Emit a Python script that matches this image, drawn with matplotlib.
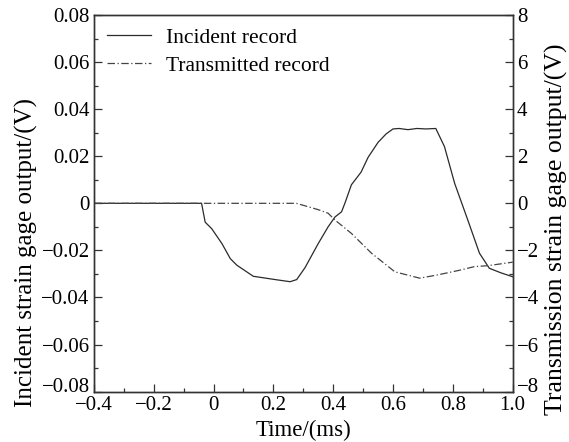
import matplotlib
matplotlib.use("Agg")
import matplotlib.pyplot as plt
from matplotlib.ticker import MultipleLocator, FuncFormatter
from matplotlib.transforms import ScaledTranslation

plt.rcParams['font.family'] = ['Liberation Serif', 'DejaVu Serif']
plt.rcParams['axes.unicode_minus'] = True

# Incident record (left axis, V)
inc_t = [-0.40, -0.30, -0.20, -0.10, -0.05, -0.040, -0.028, -0.006, 0.028, 0.056, 0.078, 0.133,
         0.206, 0.256, 0.278, 0.306, 0.35, 0.383, 0.406, 0.428, 0.439, 0.461, 0.493, 0.517,
         0.55, 0.577, 0.60, 0.62, 0.65, 0.68, 0.71, 0.743, 0.772, 0.806, 0.85, 0.889,
         0.922, 0.96, 1.00]
inc_v = [0.0, 0.0, 0.0, 0.0, 0.0, 0.0, -0.0080, -0.0108, -0.0171, -0.0235, -0.0263, -0.0310,
         -0.0324, -0.0333, -0.0324, -0.0273, -0.0171, -0.0100, -0.0058, -0.0036, 0.0, 0.0079,
         0.0132, 0.0196, 0.0259, 0.0295, 0.0316, 0.0318, 0.0313, 0.0318, 0.0316, 0.0318,
         0.0241, 0.0085, -0.0071, -0.0212, -0.0276, -0.0295, -0.0312]

# Transmitted record (right axis, V)
tr_t = [-0.40, -0.20, 0.0, 0.15, 0.277, 0.35, 0.383, 0.406, 0.461, 0.528, 0.55, 0.606,
        0.689, 0.75, 0.82, 0.872, 0.917, 0.989, 1.00]
tr_v = [0.0, 0.0, 0.0, 0.0, 0.0, -0.27, -0.42, -0.71, -1.28, -2.12, -2.34, -2.91,
        -3.18, -3.04, -2.85, -2.69, -2.65, -2.52, -2.50]

x_ticks = [-0.4, -0.2, 0, 0.2, 0.4, 0.6, 0.8, 1.0]
x_labels = ['\u22120.4', '\u22120.2', '0', '0.2', '0.4', '0.6', '0.8', '1.0']
yl_ticks = [-0.08, -0.06, -0.04, -0.02, 0, 0.02, 0.04, 0.06, 0.08]
yl_labels = ['\u22120.08', '\u22120.06', '\u22120.04', '\u22120.02', '0',
             '0.02', '0.04', '0.06', '0.08']
yr_ticks = [-8, -6, -4, -2, 0, 2, 4, 6, 8]
yr_labels = ['\u22128', '\u22126', '\u22124', '\u22122', '0', '2', '4', '6', '8']

fig = plt.figure(figsize=(5.69, 4.42), dpi=100)
ax = fig.add_axes([0.165, 0.114, 0.736, 0.852])
ax2 = ax.twinx()

l1, = ax.plot(inc_t, inc_v, color='#2a2a2a', lw=0.9, label='Incident record')
l2, = ax2.plot(tr_t, tr_v, color='#444444', lw=0.9, linestyle=(0, (6, 2, 1, 2)),
               label='Transmitted record')

ax.set_xlim(-0.4, 1.0)
ax.set_ylim(-0.08, 0.08)
ax2.set_ylim(-8, 8)

ax.set_xticks(x_ticks)
ax.set_xticklabels(x_labels)
ax.set_yticks(yl_ticks)
ax.set_yticklabels(yl_labels)
ax2.set_yticks(yr_ticks)
ax2.set_yticklabels(yr_labels)
ax.xaxis.set_minor_locator(MultipleLocator(0.1))
ax.yaxis.set_minor_locator(MultipleLocator(0.01))
ax2.yaxis.set_minor_locator(MultipleLocator(1))

for a in (ax, ax2):
    a.tick_params(which='both', direction='in', labelsize=15, width=0.9, color='#333333')
    a.tick_params(which='major', length=6)
    a.tick_params(which='minor', length=3)
    for s in a.spines.values():
        s.set_linewidth(1.0)
        s.set_color('#333333')
ax.tick_params(axis='x', pad=3)
ax.tick_params(axis='y', pad=3)
ax2.tick_params(axis='y', pad=3)

# bottom y tick labels sit a little above the spine, as in the reference
shift = ScaledTranslation(0, 5 / 72, fig.dpi_scale_trans)
for t in (ax.yaxis.get_major_ticks()[0], ax2.yaxis.get_major_ticks()[0]):
    for lab in (t.label1, t.label2):
        lab.set_transform(lab.get_transform() + shift)

ax.set_xlabel('Time/(ms)', fontsize=16.5, labelpad=4)
ax.set_ylabel('Incident strain gage output/(V)', fontsize=18, labelpad=2.5, y=0.37)
ax2.set_ylabel('Transmission strain gage output/(V)', fontsize=18.5, labelpad=4, y=0.43)

ax.legend(handles=[l1, l2], loc='upper left', frameon=False, fontsize=15.5,
          handlelength=2.05, handletextpad=0.7, borderaxespad=0.2, labelspacing=0.35)

fig.savefig('out.png', dpi=100)
